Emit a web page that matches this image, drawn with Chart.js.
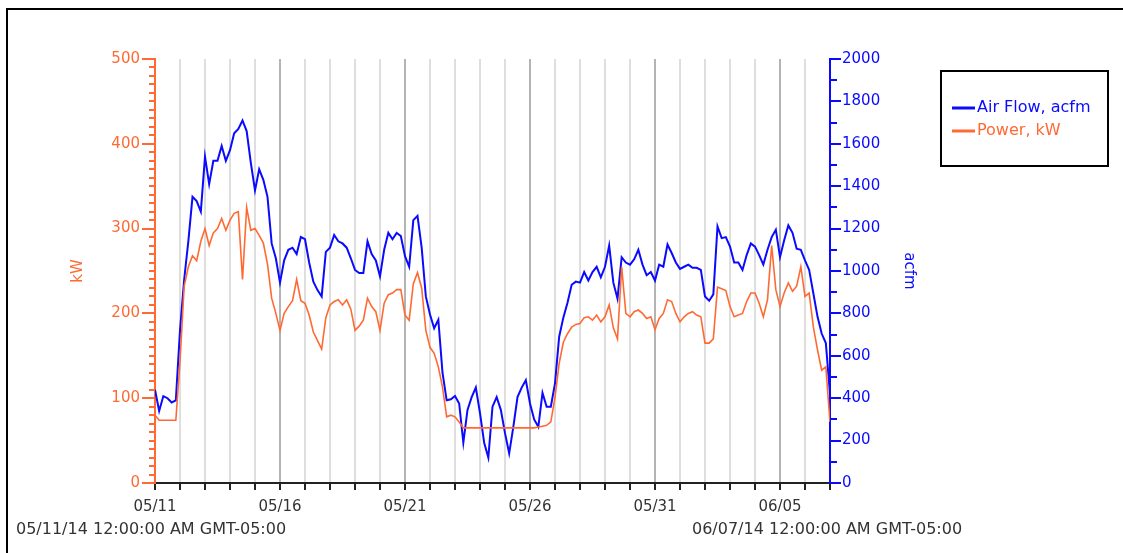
<!DOCTYPE html>
<html>
<head>
<meta charset="utf-8">
<title>Air Flow and Power</title>
<script src="https://cdn.jsdelivr.net/npm/chart.js@4.4.1/dist/chart.umd.min.js"></script>
<style>
    body { margin: 0; background: #fff; }
    #wrap { width: 1123px; height: 553px; }
</style>
</head>
<body>
<div id="wrap"><canvas id="TrendChart" width="1123" height="553"></canvas></div>
<script>
// one sample every 4 hours, starting 05/11/14 00:00
var samplesPerDay = 6;
var dayLabels = ['05/11', '05/16', '05/21', '05/26', '05/31', '06/05'];
var startLabel = '05/11/14 12:00:00 AM GMT-05:00';
var endLabel = '06/07/14 12:00:00 AM GMT-05:00';

var airFlow = [
    440, 340, 410, 400, 380, 390,
    720, 960, 1140, 1350, 1330, 1280,
    1540, 1410, 1520, 1520, 1590, 1520,
    1570, 1650, 1670, 1710, 1660, 1510,
    1380, 1480, 1430, 1350, 1130, 1060,
    945, 1050, 1100, 1110, 1080, 1160,
    1150, 1040, 950, 910, 880, 1090,
    1110, 1170, 1140, 1130, 1110, 1060,
    1005, 990, 990, 1140, 1080, 1050,
    975, 1100, 1180, 1150, 1180, 1165,
    1070, 1020, 1240, 1260, 1110, 880,
    795, 730, 770, 520, 390, 395,
    410, 375, 190, 345, 405, 450,
    330, 190, 120, 360, 405, 345,
    235, 140, 265, 405, 450, 485,
    375, 300, 265, 425, 360, 360,
    470, 690, 780, 850, 935, 950,
    945, 995, 955, 995, 1020, 970,
    1020, 1120, 945, 870, 1065, 1040,
    1030, 1055, 1100, 1030, 980, 995,
    955, 1030, 1020, 1125, 1085, 1040,
    1010, 1020, 1030, 1015, 1015, 1005,
    880, 860, 890, 1210, 1155, 1160,
    1115, 1040, 1040, 1005, 1075, 1130,
    1115, 1075, 1030, 1100, 1160, 1195,
    1065, 1145, 1215, 1180, 1105, 1100,
    1050, 1005, 895, 785, 705, 660,
    420
];

var power = [
    80, 74, 74, 74, 74, 74,
    143, 232, 255, 268, 262, 285,
    300, 280, 295, 300, 312, 298,
    310, 318, 320, 240, 325, 298,
    300, 292, 283, 258, 218, 200,
    180, 200, 208, 215, 240, 215,
    212, 198, 178, 168, 158, 195,
    210, 214, 216, 210, 216, 205,
    180, 185, 192, 218, 208, 202,
    180, 212, 222, 224, 228, 228,
    198, 192, 235, 248, 230, 180,
    160, 153, 137, 113, 78, 80,
    78, 72, 65, 65, 65, 65,
    65, 65, 65, 65, 65, 65,
    65, 65, 65, 65, 65, 65,
    65, 65, 66, 67, 68, 72,
    101, 141, 166, 176, 184, 187,
    188, 195, 196, 192, 198, 190,
    196, 210, 183, 170, 255, 200,
    196, 202, 204, 200, 194, 196,
    181, 194, 200, 216, 214, 200,
    190, 196, 200, 202, 198, 196,
    165, 165, 170, 231, 229, 227,
    208, 196, 198, 200, 214, 224,
    224, 212, 196, 216, 280, 228,
    208, 224, 236, 226, 232, 255,
    220, 224, 184, 157, 133, 137,
    72
];

var blue = '#0a0aff';
var orange = '#ff6a33';
var font = 'DejaVu Sans';

function toPoints(values) {
    return values.map(function(v, i) {
        return { x: i / samplesPerDay, y: v };
    });
}

// minor ticks, axis titles, legend, frame and date stamps
var extras = {
    id: 'extras',
    afterDraw: function(chart) {
        var ctx = chart.ctx;
        var area = chart.chartArea;
        var yP = chart.scales.yPower;
        var yA = chart.scales.yAir;
        ctx.save();

        ctx.lineWidth = 2;
        ctx.strokeStyle = orange;
        for (var v = 0; v <= 500; v += 10) {
            var y = Math.round(yP.getPixelForValue(v));
            var len = v % 100 === 0 ? 13 : 6;
            ctx.beginPath();
            ctx.moveTo(area.left - len, y);
            ctx.lineTo(area.left, y);
            ctx.stroke();
        }
        ctx.strokeStyle = blue;
        for (var a = 0; a <= 2000; a += 100) {
            var ya = Math.round(yA.getPixelForValue(a));
            var la = a % 200 === 0 ? 11 : 7;
            ctx.beginPath();
            ctx.moveTo(area.right, ya);
            ctx.lineTo(area.right + la, ya);
            ctx.stroke();
        }

        // axis titles
        ctx.font = '15px ' + font;
        ctx.textAlign = 'center';
        ctx.textBaseline = 'middle';
        ctx.fillStyle = orange;
        ctx.save();
        ctx.translate(78, 271);
        ctx.rotate(-Math.PI / 2);
        ctx.fillText('kW', 0, 0);
        ctx.restore();
        ctx.fillStyle = blue;
        ctx.save();
        ctx.translate(909, 271);
        ctx.rotate(Math.PI / 2);
        ctx.fillText('acfm', 0, 0);
        ctx.restore();

        // legend
        ctx.strokeStyle = '#000';
        ctx.lineWidth = 2;
        ctx.strokeRect(941, 71, 167, 95);
        var items = [[chart.data.datasets[0], 108], [chart.data.datasets[1], 131]];
        ctx.textAlign = 'left';
        ctx.font = '16px ' + font;
        items.forEach(function(it) {
            ctx.strokeStyle = it[0].borderColor;
            ctx.lineWidth = 3;
            ctx.beginPath();
            ctx.moveTo(952, it[1]);
            ctx.lineTo(975, it[1]);
            ctx.stroke();
            ctx.fillStyle = it[0].borderColor;
            ctx.fillText(it[0].label, 977, it[1]);
        });

        // outer frame
        ctx.strokeStyle = '#000';
        ctx.lineWidth = 2;
        ctx.beginPath();
        ctx.moveTo(7, 560);
        ctx.lineTo(7, 9);
        ctx.lineTo(1130, 9);
        ctx.stroke();

        // date stamps
        ctx.fillStyle = '#333';
        ctx.font = '16px ' + font;
        ctx.fillText(startLabel, 16, 530);
        ctx.fillText(endLabel, 692, 530);
        ctx.restore();
    }
};

var ctx = document.getElementById('TrendChart').getContext('2d');
var trendChart = new Chart(ctx, {
    type: 'line',
    data: {
        datasets: [{
            label: 'Air Flow, acfm',
            data: toPoints(airFlow),
            yAxisID: 'yAir',
            borderColor: blue,
            borderWidth: 2,
            pointRadius: 0,
            tension: 0,
            order: 1
        }, {
            label: 'Power, kW',
            data: toPoints(power),
            yAxisID: 'yPower',
            borderColor: orange,
            borderWidth: 1.6,
            pointRadius: 0,
            tension: 0,
            order: 0
        }]
    },
    options: {
        responsive: false,
        animation: false,
        layout: { padding: { top: 59, left: 0, right: 0, bottom: 0 } },
        plugins: {
            legend: { display: false },
            tooltip: { enabled: false }
        },
        scales: {
            x: {
                type: 'linear',
                position: 'bottom',
                min: 0,
                max: 27,
                afterFit: function(scale) { scale.height = 70; },
                ticks: {
                    stepSize: 1,
                    autoSkip: false,
                    maxRotation: 0,
                    padding: 8,
                    color: '#333',
                    font: { family: font, size: 15 },
                    callback: function(value) {
                        return value % 5 === 0 ? dayLabels[value / 5] : '';
                    }
                },
                grid: {
                    color: function(c) {
                        return c.tick && c.tick.value % 5 === 0 ? '#b4b4b4' : '#dedede';
                    },
                    lineWidth: 2,
                    tickLength: 7,
                    tickColor: '#222',
                    tickWidth: 2
                },
                border: { color: '#222', width: 2 }
            },
            yPower: {
                type: 'linear',
                position: 'left',
                min: 0,
                max: 500,
                afterFit: function(scale) { scale.width = 155; },
                ticks: {
                    stepSize: 100,
                    padding: 15,
                    color: orange,
                    font: { family: font, size: 15 },
                    callback: function(value) { return String(value); }
                },
                grid: { display: false, drawTicks: false },
                border: { color: orange, width: 2 }
            },
            yAir: {
                type: 'linear',
                position: 'right',
                min: 0,
                max: 2000,
                afterFit: function(scale) { scale.width = 293; },
                ticks: {
                    stepSize: 200,
                    padding: 12,
                    color: blue,
                    font: { family: font, size: 15 },
                    callback: function(value) { return String(value); }
                },
                grid: { display: false, drawTicks: false },
                border: { color: blue, width: 2 }
            }
        }
    },
    plugins: [extras]
});
</script>
</body>
</html>
